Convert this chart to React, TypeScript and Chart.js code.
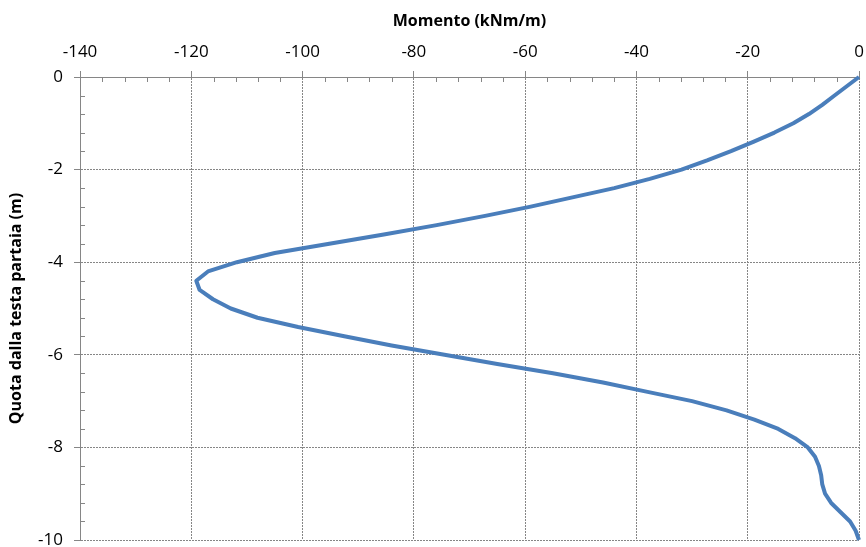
import { useEffect, useRef } from "react";
import { Chart, registerables } from "chart.js";

Chart.register(...registerables);

// Depth below pile head (m)
const depths = [
  0, -0.2, -0.4, -0.6, -0.8, -1.0, -1.2, -1.4, -1.6, -1.8,
  -2.0, -2.2, -2.4, -2.6, -2.8, -3.0, -3.2, -3.4, -3.6, -3.8,
  -4.0, -4.2, -4.4, -4.6, -4.8, -5.0, -5.2, -5.4, -5.6, -5.8,
  -6.0, -6.2, -6.4, -6.6, -6.8, -7.0, -7.2, -7.4, -7.6, -7.8,
  -8.0, -8.2, -8.4, -8.6, -8.8, -9.0, -9.2, -9.4, -9.6, -9.8,
  -10.0,
];

// Bending moment (kNm/m)
const moments = [
  0, -2.2, -4.4, -6.6, -9.0, -11.8, -15.2, -19.0, -23.0, -27.3,
  -31.9, -37.6, -44.0, -51.5, -59.0, -67.2, -75.9, -85.4, -95.2, -105.0,
  -111.8, -117.0, -119.1, -118.5, -116.1, -112.9, -108.1, -100.8, -92.5, -84.0,
  -74.5, -65.0, -55.0, -46.0, -38.0, -30.0, -23.8, -18.8, -14.5, -11.5,
  -9.2, -7.9, -7.2, -6.8, -6.6, -6.1, -5.0, -3.3, -1.6, -0.6,
  0,
];

const xTickValues = [-140, -120, -100, -80, -60, -40, -20, 0];
const yTickValues = [0, -2, -4, -6, -8, -10];
const xMinorStep = 4;
const yMinorStep = 0.4;

const xTitle = "Momento (kNm/m)";
const yTitle = "Quota dalla testa partaia (m)";

const GRID = "#868686";

const minorTicksPlugin = {
  id: "minorTicks",
  afterDraw(chart: any) {
    const { ctx, chartArea, scales } = chart;
    const x = scales.x;
    const y = scales.y;
    ctx.save();
    ctx.strokeStyle = GRID;
    ctx.lineWidth = 1;
    ctx.setLineDash([]);
    ctx.beginPath();
    const xMin = xTickValues[0];
    const xMax = xTickValues[xTickValues.length - 1];
    const nx = Math.round((xMax - xMin) / xMinorStep);
    for (let i = 0; i <= nx; i++) {
      if (i % 5 === 0) continue;
      const v = xMin + i * xMinorStep;
      const px = Math.round(x.getPixelForValue(v)) + 0.5;
      ctx.moveTo(px, chartArea.top);
      ctx.lineTo(px, chartArea.top + 5);
    }
    const yMax = yTickValues[0];
    const yMin = yTickValues[yTickValues.length - 1];
    const ny = Math.round((yMax - yMin) / yMinorStep);
    for (let i = 0; i <= ny; i++) {
      if (i % 5 === 0) continue;
      const v = yMax - i * yMinorStep;
      const py = Math.round(y.getPixelForValue(v)) + 0.5;
      ctx.moveTo(chartArea.left, py);
      ctx.lineTo(chartArea.left + 5, py);
    }
    ctx.stroke();
    ctx.restore();
  },
};

export default function App() {
  const ref = useRef<HTMLCanvasElement | null>(null);

  useEffect(() => {
    if (!ref.current) return;
    Chart.defaults.font.family = "'Open Sans', sans-serif";
    const data = depths.map((d, i) => ({ x: moments[i], y: d }));
    const chart = new Chart(ref.current, {
      type: "scatter",
      data: {
        datasets: [
          {
            data,
            showLine: true,
            borderColor: "#4A7EBB",
            backgroundColor: "#4A7EBB",
            borderWidth: 4,
            pointRadius: 0,
            tension: 0,
            borderJoinStyle: "round",
            clip: false as any,
          },
        ],
      },
      options: {
        responsive: false,
        animation: false,
        devicePixelRatio: 1,
        layout: { padding: { left: 0, top: 0, right: 7, bottom: 7 } },
        plugins: {
          legend: { display: false },
          tooltip: { enabled: false },
        },
        scales: {
          x: {
            type: "linear",
            position: "top",
            min: xTickValues[0],
            max: xTickValues[xTickValues.length - 1],
            afterBuildTicks: (s: any) => {
              s.ticks = xTickValues.map((v) => ({ value: v }));
            },
            afterFit: (s: any) => {
              s.height = 77;
              s.paddingLeft = 0;
              s.paddingRight = 0;
            },
            ticks: {
              color: "#000",
              font: { size: 17 },
              padding: 9,
              maxRotation: 0,
              autoSkip: false,
            },
            grid: {
              color: GRID,
              lineWidth: 1,
              tickLength: 6,
              tickBorderDash: [],
            },
            border: { display: true, color: GRID, width: 1, dash: [2, 1] },
            title: {
              display: true,
              text: xTitle,
              color: "#000",
              font: { size: 16, weight: "bold" },
              padding: { top: 12, bottom: 0 },
            },
          },
          y: {
            type: "linear",
            position: "left",
            min: yTickValues[yTickValues.length - 1],
            max: yTickValues[0],
            afterBuildTicks: (s: any) => {
              s.ticks = yTickValues.map((v) => ({ value: v }));
            },
            afterFit: (s: any) => {
              s.width = 80;
              s.paddingTop = 0;
              s.paddingBottom = 0;
            },
            ticks: {
              color: "#000",
              font: { size: 17 },
              padding: 11,
              autoSkip: false,
            },
            grid: {
              color: GRID,
              lineWidth: 1,
              tickLength: 6,
              tickBorderDash: [],
            },
            border: { display: true, color: GRID, width: 1, dash: [2, 1] },
            title: {
              display: true,
              text: yTitle,
              color: "#000",
              font: { size: 16, weight: "bold" },
              padding: { top: 7, bottom: 0 },
            },
          },
        },
      },
      plugins: [minorTicksPlugin],
    });
    return () => chart.destroy();
  }, []);

  return (
    <div
      style={{
        position: "fixed",
        left: 0,
        top: 0,
        width: 866,
        height: 547,
        background: "#fff",
      }}
    >
      <canvas ref={ref} width={866} height={547} style={{ display: "block" }} />
    </div>
  );
}
